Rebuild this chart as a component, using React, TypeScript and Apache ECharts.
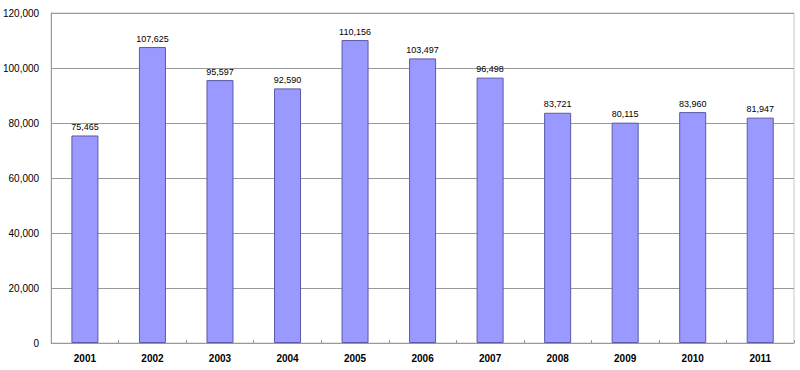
import React, { useEffect, useRef } from "react";
import * as echarts from "echarts";

const years = ["2001", "2002", "2003", "2004", "2005", "2006", "2007", "2008", "2009", "2010", "2011"];
const values = [75465, 107625, 95597, 92590, 110156, 103497, 96498, 83721, 80115, 83960, 81947];

const fmt = (v: number) => v.toLocaleString("en-US");

export default function App() {
  const ref = useRef<HTMLDivElement>(null);
  useEffect(() => {
    const chart = echarts.init(ref.current!, null, { renderer: "svg" });
    chart.setOption({
      animation: false,
      backgroundColor: "#ffffff",
      grid: {
        left: 50,
        top: 13,
        right: 6,
        bottom: 27,
        show: true,
        borderColor: "#c8c8c8",
        borderWidth: 1,
      },
      xAxis: {
        type: "category",
        data: years,
        axisLine: { lineStyle: { color: "#999999", width: 1 } },
        axisTick: { show: true, inside: true, length: 3, lineStyle: { color: "#999999" } },
        axisLabel: {
          color: "#000000",
          fontWeight: "bold",
          fontSize: 10,
          fontFamily: "Arial, 'Liberation Sans', sans-serif",
          margin: 10,
        },
      },
      yAxis: {
        type: "value",
        min: 0,
        max: 120000,
        interval: 20000,
        axisLine: { show: true, lineStyle: { color: "#999999", width: 1 } },
        axisTick: { show: false },
        splitLine: { lineStyle: { color: "#999999", width: 1 } },
        axisLabel: {
          color: "#000000",
          fontSize: 10,
          fontFamily: "Arial, 'Liberation Sans', sans-serif",
          margin: 12,
          formatter: (v: number) => fmt(v),
        },
      },
      series: [
        {
          type: "bar",
          data: values,
          barWidth: "40%",
          itemStyle: { color: "#9999ff", borderColor: "#5a5aa8", borderWidth: 1 },
          label: {
            show: true,
            position: "top",
            distance: 4,
            color: "#000000",
            fontSize: 9,
            fontFamily: "Arial, 'Liberation Sans', sans-serif",
            formatter: (p: any) => fmt(p.value),
          },
        },
      ],
    });
    return () => chart.dispose();
  }, []);
  return (
    <div
      ref={ref}
      style={{ position: "fixed", left: 0, top: 0, width: 800, height: 370, background: "#fff" }}
    />
  );
}
